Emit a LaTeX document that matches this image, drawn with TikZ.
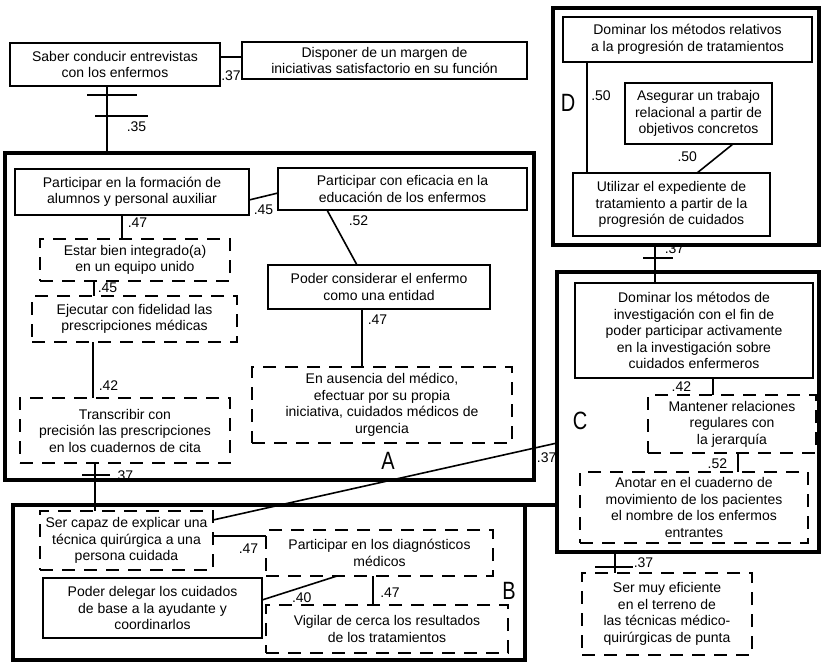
\documentclass[tikz,border=0pt]{standalone}
\usepackage{fontspec}
\setmainfont{Liberation Sans}
\newfontfamily\groupfont[FakeStretch=0.8]{Liberation Sans}
\usetikzlibrary{positioning}
\newcommand{\boxfont}{\fontsize{14}{16.5}\selectfont}

\begin{document}
\begin{tikzpicture}[
        x=1pt, y=-1pt,
        solidbox/.style={rectangle, draw, line width=1.5pt, align=center, font=\boxfont, inner sep=2pt, outer sep=0pt},
        dashbox/.style={solidbox, line width=2.2pt, dash pattern=on 13pt off 9pt},
        group/.style={rectangle, draw, line width=3.5pt, inner sep=0pt, outer sep=0pt},
        link/.style={line width=1.6pt},
        weight/.style={font=\boxfont, inner sep=0pt},
        grouplabel/.style={font=\groupfont\fontsize{25}{25}\selectfont, inner sep=0pt}
    ]
    \useasboundingbox (0,0) rectangle (821,665);

    % Group frames
    \node[group, minimum width=529pt, minimum height=327pt] (frameA) at (269.5,316.5) {};
    \node[group, minimum width=512pt, minimum height=155pt] (frameB) at (269,582.5) {};
    \node[group, minimum width=262pt, minimum height=280pt] (frameC) at (688,412) {};
    \node[group, minimum width=266pt, minimum height=237pt] (frameD) at (686,126.5) {};
    \draw[line width=3.5pt] (frameB.north east) -- (frameB.north east -| frameC.west); % top edge runs on to C

    \node[grouplabel] (letterA) at (388,461) {A};
    \node[grouplabel] (letterB) at (509,591) {B};
    \node[grouplabel] (letterC) at (580,421) {C};
    \node[grouplabel] (letterD) at (568,103) {D};

    % Top row, outside the groups
    \node[solidbox, minimum width=210pt, minimum height=43pt] (saber) at (115,64.5) {Saber conducir entrevistas\\con los enfermos};
    \node[solidbox, minimum width=285pt, minimum height=37pt] (disponer) at (384.5,60.5) {Disponer de un margen de\\iniciativas satisfactorio en su función};

    % Group A
    \node[solidbox, minimum width=234pt, minimum height=46pt] (formacion) at (132,192) {Participar en la formación de\\alumnos y personal auxiliar};
    \node[solidbox, minimum width=249pt, minimum height=42pt] (eficacia) at (402.5,189) {Participar con eficacia en la\\educación de los enfermos};
    \node[dashbox, minimum width=190pt, minimum height=42pt] (integrado) at (135,260) {Estar bien integrado(a)\\en un equipo unido};
    \node[dashbox, minimum width=205pt, minimum height=46pt] (ejecutar) at (134.5,319) {Ejecutar con fidelidad las\\prescripciones médicas};
    \node[dashbox, minimum width=210pt, minimum height=65pt] (transcribir) at (125,430.5) {Transcribir con\\precisión las prescripciones\\en los cuadernos de cita};
    \node[solidbox, minimum width=222pt, minimum height=44pt] (entidad) at (379,287) {Poder considerar el enfermo\\como una entidad};
    \node[dashbox, minimum width=260pt, minimum height=76pt] (ausencia) at (382,405) {En ausencia del médico,\\efectuar por su propia\\iniciativa, cuidados médicos de\\urgencia};

    % Group B
    \node[dashbox, minimum width=173pt, minimum height=59pt] (explicar) at (126.5,540.5) {Ser capaz de explicar una\\técnica quirúrgica a una\\persona cuidada};
    \node[dashbox, minimum width=227pt, minimum height=46pt] (diagnosticos) at (379.5,553) {Participar en los diagnósticos\\médicos};
    \node[solidbox, minimum width=219pt, minimum height=60pt] (delegar) at (152.5,608) {Poder delegar los cuidados\\de base a la ayudante y\\coordinarlos};
    \node[dashbox, minimum width=242pt, minimum height=48pt] (vigilar) at (387,629) {Vigilar de cerca los resultados\\de los tratamientos};

    % Group D
    \node[solidbox, minimum width=249pt, minimum height=45pt] (relativos) at (687.5,39.5) {Dominar los métodos relativos\\a la progresión de tratamientos};
    \node[solidbox, minimum width=147pt, minimum height=61pt] (asegurar) at (698.5,113.5) {Asegurar un trabajo\\relacional a partir de\\objetivos concretos};
    \node[solidbox, minimum width=197pt, minimum height=63pt] (utilizar) at (671.5,204.5) {Utilizar el expediente de\\tratamiento a partir de la\\progresión de cuidados};

    % Group C
    \node[solidbox, minimum width=238pt, minimum height=95pt] (investigacion) at (694,330.5) {Dominar los métodos de\\investigación con el fin de\\poder participar activamente\\en la investigación sobre\\cuidados enfermeros};
    \node[dashbox, minimum width=168pt, minimum height=58pt] (jerarquia) at (732,424) {Mantener relaciones\\regulares con\\la jerarquía};
    \node[dashbox, minimum width=228pt, minimum height=71pt] (anotar) at (694,507.5) {Anotar en el cuaderno de\\movimiento de los pacientes\\el nombre de los enfermos\\entrantes};

    % Below group C
    \node[dashbox, minimum width=170pt, minimum height=82pt] (eficiente) at (667,614) {Ser muy eficiente\\en el terreno de\\las técnicas médico-\\quirúrgicas de punta};

    % Connections - top row
    \draw[link] ([yshift=7.5]saber.east) -- node[weight, below=13pt] {.37} ([yshift=7.5]saber.east -| disponer.west);
    \draw[link] ([xshift=-8]saber.south) -- node[weight, pos=0.61, right=19pt] {.35} ([xshift=-8]saber.south |- frameA.north);
    \draw[link] ([shift={(-28,9)}]saber.south) -- ++(50,0); % ticks
    \draw[link] ([shift={(-20,30)}]saber.south) -- ++(53,0);

    % Connections - inside A
    \draw[link] ([yshift=-8]formacion.east) -- node[weight, below=7.5pt] {.45} ([yshift=-4]eficacia.west);
    \draw[link] ([xshift=-10]formacion.south) -- node[weight, pos=0.33, right=5pt] {.47} ([xshift=-10]formacion.south |- integrado.north);
    \draw[link] ([xshift=-41]integrado.south) -- node[weight, pos=0.47, right=3pt] {.45} ([xshift=-41]integrado.south |- ejecutar.north);
    \draw[link] ([xshift=-41.5]ejecutar.south) -- node[weight, pos=0.77, right=5pt] {.42} ([xshift=-41.5]ejecutar.south |- transcribir.north);
    \draw[link] ([xshift=-75.5]eficacia.south) -- node[weight, pos=0.2, right=15pt] {.52} ([xshift=-22]entidad.north);
    \draw[link] ([xshift=-17]entidad.south) -- node[weight, pos=0.19, right=5pt] {.47} ([xshift=-17]entidad.south |- ausencia.north);

    % Connections - between groups
    \draw[link] ([xshift=-30]transcribir.south) -- node[weight, pos=0.27, right=18pt] {.37} ([xshift=-30]transcribir.south |- explicar.north);
    \draw[link] ([shift={(-43,12)}]transcribir.south) -- ++(28,0); % tick
    \draw[link] ([yshift=-9]explicar.north east) -- node[weight, pos=0.97, below=6.5pt] {.37} ([yshift=-31]frameC.west);
    \draw[link] ([xshift=-31]frameD.south) -- node[weight, pos=0.1, right=9pt] {.37} ([xshift=-31]frameD.south |- investigacion.north);
    \draw[link] ([shift={(-43,13)}]frameD.south) -- ++(30,0); % tick
    \draw[link] ([xshift=-73]frameC.south) -- node[weight, pos=0.52, right=18pt] {.37} ([xshift=-73]frameC.south |- eficiente.north);
    \draw[link] ([shift={(-93,15)}]frameC.south) -- ++(38,0); % tick

    % Connections - inside B
    \draw[link] ([yshift=4.5]explicar.east) -- node[weight, pos=0.67, below=7pt] {.47} ([yshift=4.5]explicar.east -| diagnosticos.west);
    \draw[link] ([yshift=8]delegar.east) -- node[weight, pos=0.53, below=5pt] {.40} ([xshift=-42.5]diagnosticos.south);
    \draw[link] ([xshift=-6.5]diagnosticos.south) -- node[weight, pos=0.59, right=6.5pt] {.47} ([xshift=-6.5]diagnosticos.south |- vigilar.north);

    % Connections - inside D
    \draw[link] ([xshift=-100.5]relativos.south) -- node[weight, pos=0.3, right=3.5pt] {.50} ([xshift=-100.5]relativos.south |- utilizar.north);
    \draw[link] ([xshift=34.5]asegurar.south) -- node[weight, pos=0.45, left=19pt] {.50} ([xshift=25.5]utilizar.north);

    % Connections - inside C
    \draw[link] ([xshift=19]investigacion.south) -- node[weight, left=21pt] {.42} ([xshift=19]investigacion.south |- jerarquia.north);
    \draw[link] ([xshift=6]jerarquia.south) -- node[weight, pos=0.58, left=10pt] {.52} ([xshift=6]jerarquia.south |- anotar.north);

\end{tikzpicture}
\end{document}
